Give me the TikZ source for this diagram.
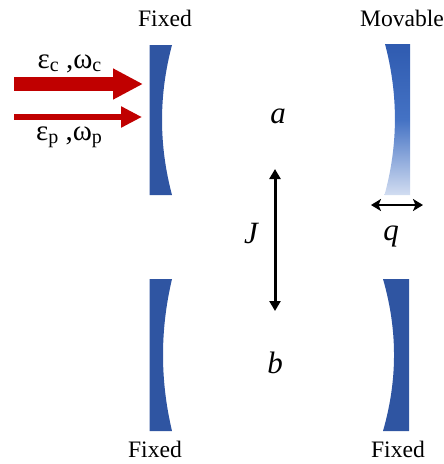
\documentclass[tikz,border=0pt]{standalone}
\usepackage{fontspec}
\setmainfont{Liberation Serif}
\usetikzlibrary{arrows.meta}
\definecolor{mirrorblue}{HTML}{2F55A2}
\definecolor{beamred}{HTML}{C00000}
\definecolor{movtop}{HTML}{2F5BB0}
\definecolor{movmid}{HTML}{4472C4}
\definecolor{movlow}{HTML}{D2DDF1}
\pgfdeclareverticalshading{movshade}{100bp}{
  color(0bp)=(movlow);
  color(25bp)=(movlow);
  color(50bp)=(movmid);
  color(75bp)=(movtop);
  color(100bp)=(movtop)}
\tikzset{
  lbl/.style={anchor=base,inner sep=0pt,font=\fontsize{23.6}{26}\selectfont},
  sym/.style={anchor=base,inner sep=0pt,font=\fontsize{31}{34}\selectfont\itshape},
  beam/.style={anchor=base,inner sep=0pt,font=\fontsize{29}{30}\selectfont},
  mirror/.style={fill=mirrorblue,draw=none},
  dbl/.style={line width=2.8pt,{Stealth[length=10pt,width=12pt,inset=2.5pt]}-{Stealth[length=10pt,width=12pt,inset=2.5pt]}},
  vert/.style={line width=3pt,{Triangle[length=10pt,width=11pt]}-{Triangle[length=10pt,width=11pt]}}
}
\newcommand{\sbs}[1]{\raisebox{-3.5pt}{\fontsize{20}{22}\selectfont #1}}
\begin{document}
\begin{tikzpicture}[x=1pt,y=-1pt]
\useasboundingbox (0,0) rectangle (444,464);
% mirrors
\fill[mirror] (149.5,45) -- (172,45) .. controls (158.7,95) and (158.7,145) .. (172,195) -- (149.5,195) -- cycle;
\shade[shading=movshade] (410,44) -- (385,44) .. controls (398.3,94) and (398.3,145) .. (384.5,195) -- (410,195) -- cycle;
\fill[mirror] (149.5,279) -- (172,279) .. controls (160,330) and (160,380) .. (172,431) -- (149.5,431) -- cycle;
\fill[mirror] (409,279) -- (383,279) .. controls (397.7,330) and (397.7,380) .. (383,431) -- (409,431) -- cycle;
% labels
\node[lbl] (fixA) at (165,26) {Fixed};
\node[lbl] (mov) at (402,26) {Movable};
\node[lbl] (fixB) at (155,457) {Fixed};
\node[lbl] (fixC) at (398,457) {Fixed};
\node[sym] (a) at (278,123) {a};
\node[sym] (b) at (275,373) {b};
\node[sym] (J) at (251,243) {J};
\node[sym] (q) at (391,240) {q};
\node[beam] (ec) at (69.5,68) {ε\sbs{c} ,ω\sbs{c}};
\node[beam] (ep) at (69,140) {ε\sbs{p} ,ω\sbs{p}};
% beams
\coordinate (c0) at (14,84);
\coordinate (c1) at (143,84);
\coordinate (p0) at (14,117);
\coordinate (p1) at (142,117);
\draw[beamred,line width=14pt,-{Triangle[length=30pt,width=29pt]}] (c0) -- (c1);
\draw[beamred,line width=6.5pt,-{Triangle[length=21pt,width=20pt]}] (p0) -- (p1);
% double arrows
\coordinate (j0) at (275,169);
\coordinate (j1) at (275,311);
\coordinate (q0) at (371,205);
\coordinate (q1) at (423,205);
\draw[vert] (j0) -- (j1);
\draw[dbl] (q0) -- (q1);
\end{tikzpicture}
\end{document}
